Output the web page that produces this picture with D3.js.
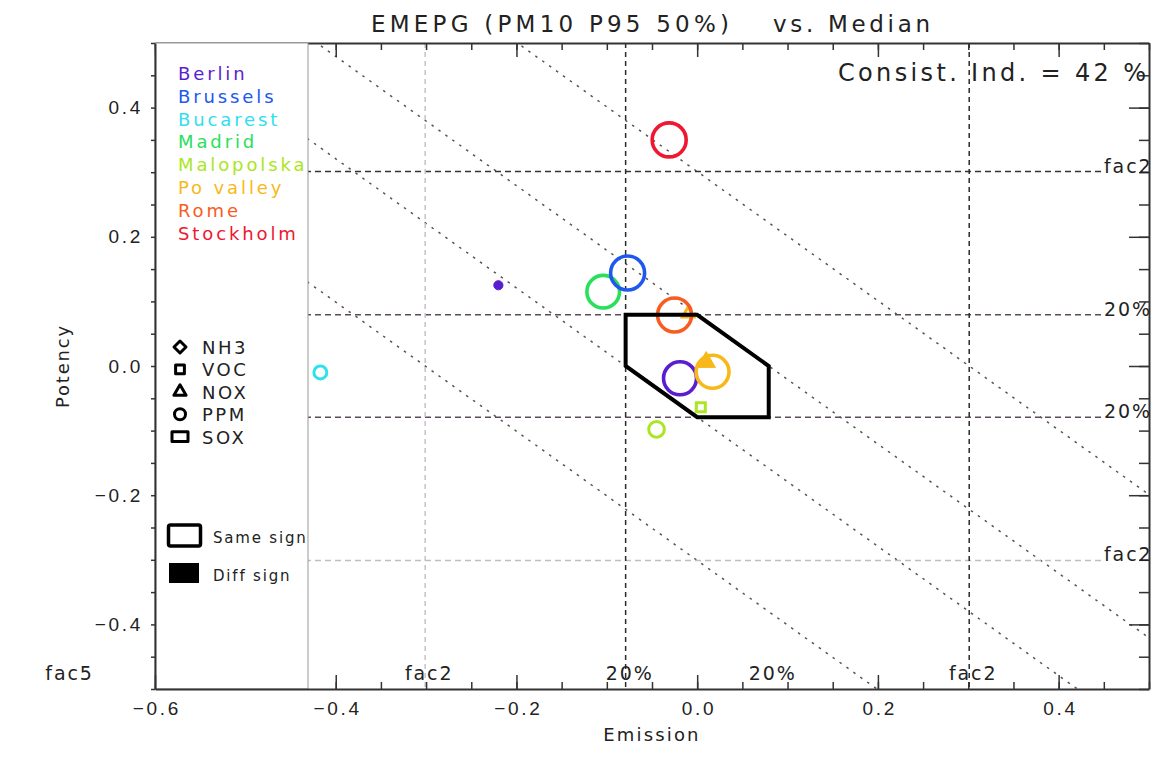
<!DOCTYPE html>
<html>
<head>
<meta charset="utf-8">
<script src="https://cdn.jsdelivr.net/npm/d3@7"></script>
<style>
  html, body { margin: 0; padding: 0; background: #fff; }
  svg { display: block; font-family: "DejaVu Sans", sans-serif; }
  .lbl { fill: #222; }
</style>
</head>
<body>
<svg id="chart" width="1165" height="759"></svg>
<script>
// ---- data -------------------------------------------------------------
const cities = ["Berlin", "Brussels", "Bucarest", "Madrid", "Malopolska", "Po valley", "Rome", "Stockholm"];
const cityColors = ["#5a1ed0", "#2058ee", "#30e0ec", "#28e05a", "#aae622", "#f8b81a", "#f85c22", "#ee1830"];

const pollutants = ["NH3", "VOC", "NOX", "PPM", "SOX"];
const pollutantShapes = ["diamond", "square", "triangle", "circle", "rect"];

// one entry per plotted symbol
const markerCity      = ["Berlin", "Berlin", "Brussels", "Bucarest", "Madrid", "Malopolska", "Malopolska", "Po valley", "Po valley", "Po valley", "Rome", "Stockholm"];
const markerPollutant = ["PPM", "PPM", "PPM", "PPM", "PPM", "PPM", "VOC", "PPM", "NOX", "NOX", "PPM", "PPM"];
const markerEmission  = [-0.220, -0.019, -0.077, -0.417, -0.104, -0.045, 0.004, 0.017, 0.010, -0.010, -0.025, -0.031];
const markerPotency   = [0.125, -0.019, 0.144, -0.010, 0.115, -0.098, -0.064, -0.009, 0.006, 0.081, 0.079, 0.350];
const markerMagnitude = [0.27, 0.97, 1.0, 0.38, 0.96, 0.46, 0.33, 0.97, 0.62, 0.39, 1.0, 1.0];
const markerSameSign  = [false, true, true, true, true, true, true, true, false, true, true, true];

// reference factors (log10 scale): 20%, factor 2, factor 5
const f20 = Math.log10(1.2);
const f2 = Math.log10(2);
const f5 = Math.log10(5);
const diagonalLevels = [-f2, -f20, f20, f2];

const xMajorTicks = [-0.6, -0.4, -0.2, 0.0, 0.2, 0.4];
const yMajorTicks = [-0.4, -0.2, 0.0, 0.2, 0.4];

const titleLeft = "EMEPG (PM10 P95 50%)";
const titleRight = "vs. Median";
const consistency = 42;

// ---- layout -------------------------------------------------------------
const svg = d3.select("#chart");
const x = d3.scaleLinear().domain([-0.6, 0.5]).range([155, 1149]);
const y = d3.scaleLinear().domain([-0.5, 0.5]).range([689, 43]);
const rScale = d3.scaleLinear().domain([0, 1]).range([0, 17]);
const colorOf = d3.scaleOrdinal().domain(cities).range(cityColors);

const [x0, x1] = x.range();
const [y1, y0] = y.range();

svg.append("defs").append("clipPath").attr("id", "plotClip")
  .append("rect").attr("x", x0).attr("y", y0).attr("width", x1 - x0).attr("height", y1 - y0);

const plot = svg.append("g").attr("clip-path", "url(#plotClip)");

// diagonal iso-lines (emission + potency = const)
plot.selectAll("line.diag").data(diagonalLevels).join("line")
  .attr("class", "diag")
  .attr("x1", x(-0.6)).attr("y1", c => y(c + 0.6))
  .attr("x2", x(0.5)).attr("y2", c => y(c - 0.5))
  .attr("stroke", "#555").attr("stroke-width", 1.5)
  .attr("stroke-dasharray", "2.5,6");

// horizontal reference lines
const hLines = [
  { v: f2, color: "#333" },
  { v: f20, color: "#5a4a5a" },
  { v: -f20, color: "#5a4a5a" },
  { v: -f2, color: "#c4bcc4" }
];
plot.selectAll("line.h").data(hLines).join("line")
  .attr("class", "h")
  .attr("x1", x0).attr("x2", 1103)
  .attr("y1", d => y(d.v)).attr("y2", d => y(d.v))
  .attr("stroke", d => d.color).attr("stroke-width", 1.5)
  .attr("stroke-dasharray", "6,4");

// vertical reference lines
const vLines = [
  { v: -f2, color: "#c8c0c8" },
  { v: -f20, color: "#2a2a2a" },
  { v: f2, color: "#2a2a2a" }
];
plot.selectAll("line.v").data(vLines).join("line")
  .attr("class", "v")
  .attr("y1", y0).attr("y2", y1)
  .attr("x1", d => x(d.v)).attr("x2", d => x(d.v))
  .attr("stroke", d => d.color).attr("stroke-width", 1.5)
  .attr("stroke-dasharray", "5,4");

// ---- axes ---------------------------------------------------------------
const minorX = d3.range(-12, 11).map(i => i * 0.05);
const minorY = d3.range(-10, 11).map(i => i * 0.05);
const fmt = d3.format(".1f");

function styleAxis(g) {
  g.selectAll(".domain").attr("stroke", "#333").attr("stroke-width", 2);
  g.selectAll(".tick line").attr("stroke", "#333").attr("stroke-width", 1.5);
  g.selectAll(".tick text").attr("fill", "#222").style("font-size", "19px").style("letter-spacing", "0.14em");
}

svg.append("g").attr("transform", `translate(0,${y1})`)
  .call(d3.axisBottom(x).tickValues(minorX).tickSize(-7).tickSizeOuter(0).tickFormat(""))
  .call(g => g.select(".domain").remove()).call(styleAxis);
svg.append("g").attr("transform", `translate(0,${y0})`)
  .call(d3.axisTop(x).tickValues(minorX).tickSize(-7).tickSizeOuter(0).tickFormat(""))
  .call(g => g.select(".domain").remove()).call(styleAxis);
svg.append("g").attr("transform", `translate(${x1},0)`)
  .call(d3.axisRight(y).tickValues(minorY).tickSize(-10).tickSizeOuter(0).tickFormat(""))
  .call(g => g.select(".domain").remove()).call(styleAxis);

svg.append("g").attr("transform", `translate(0,${y0})`)
  .call(d3.axisTop(x).tickValues(xMajorTicks).tickSize(-14).tickSizeOuter(0).tickFormat(""))
  .call(styleAxis);
svg.append("g").attr("transform", `translate(${x1},0)`)
  .call(d3.axisRight(y).tickValues(yMajorTicks).tickSize(-20).tickSizeOuter(0).tickFormat(""))
  .call(styleAxis);

// legend panel sits over the left part of the plot
svg.append("rect")
  .attr("x", x0).attr("y", y0).attr("width", 153).attr("height", y1 - y0)
  .attr("fill", "#fff").attr("stroke", "#999").attr("stroke-width", 1);

svg.append("g").attr("transform", `translate(0,${y1})`)
  .call(d3.axisBottom(x).tickValues(xMajorTicks).tickSize(-14).tickSizeOuter(0).tickPadding(13).tickFormat(fmt))
  .call(styleAxis)
  .call(g => g.selectAll(".tick text").attr("dx", "0.07em"));
svg.append("g").attr("transform", `translate(${x0},0)`)
  .call(d3.axisLeft(y).tickValues(minorY).tickSize(4).tickSizeOuter(0).tickPadding(8)
    .tickFormat(d => yMajorTicks.some(t => Math.abs(t - d) < 1e-9) ? fmt(d) : ""))
  .call(styleAxis);

// axis titles
svg.append("text").attr("class", "lbl")
  .attr("x", (x0 + x1) / 2).attr("y", 741).attr("text-anchor", "middle")
  .style("font-size", "18px").style("letter-spacing", "0.12em").text("Emission");
svg.append("text").attr("class", "lbl")
  .attr("transform", `translate(69,${(y0 + y1) / 2}) rotate(-90)`).attr("text-anchor", "middle")
  .style("font-size", "18px").style("letter-spacing", "0.1em").text("Potency");

// title
svg.append("text").attr("class", "lbl")
  .attr("x", 371).attr("y", 32).attr("textLength", 358).attr("lengthAdjust", "spacing")
  .style("font-size", "23px").text(titleLeft);
svg.append("text").attr("class", "lbl")
  .attr("x", 773).attr("y", 32).attr("textLength", 157).attr("lengthAdjust", "spacing")
  .style("font-size", "23px").text(titleRight);

svg.append("text").attr("class", "lbl")
  .attr("x", 838).attr("y", 81).attr("textLength", 308).attr("lengthAdjust", "spacing")
  .style("font-size", "24px").text(`Consist. Ind. = ${consistency} %`);

// reference line labels
const rightLabels = [
  { v: f2, t: "fac2" }, { v: f20, t: "20%" }, { v: -f20, t: "20%" }, { v: -f2, t: "fac2" }
];
svg.selectAll("text.rl").data(rightLabels).join("text")
  .attr("class", "rl lbl")
  .attr("x", 1104).attr("y", d => y(d.v) + 1)
  .style("font-size", "19px").style("letter-spacing", "0.1em")
  .text(d => d.t);

const bottomLabels = [
  { v: -f5, t: "fac5" }, { v: -f2, t: "fac2" }, { v: -f20, t: "20%" }, { v: f20, t: "20%" }, { v: f2, t: "fac2" }
];
svg.selectAll("text.bl").data(bottomLabels).join("text")
  .attr("class", "bl lbl")
  .attr("x", d => x(d.v) + 4).attr("y", 680).attr("text-anchor", "middle")
  .style("font-size", "19px").style("letter-spacing", "0.1em")
  .text(d => d.t);

// ---- symbols --------------------------------------------------------------
function shapePath(shape, r) {
  const p = d3.path();
  if (shape === "circle") {
    p.arc(0, 0, r, 0, 2 * Math.PI);
  } else if (shape === "square") {
    const h = r * 0.8;
    p.rect(-h, -h, 2 * h, 2 * h);
  } else if (shape === "triangle") {
    p.moveTo(0, -r); p.lineTo(0.87 * r, 0.5 * r); p.lineTo(-0.87 * r, 0.5 * r); p.closePath();
  } else if (shape === "diamond") {
    p.moveTo(0, -r); p.lineTo(r, 0); p.lineTo(0, r); p.lineTo(-r, 0); p.closePath();
  } else if (shape === "rect") {
    p.rect(-r, -0.6 * r, 2 * r, 1.2 * r);
  }
  return p.toString();
}
const shapeOf = d3.scaleOrdinal().domain(pollutants).range(pollutantShapes);

const markers = markerCity.map((c, i) => ({
  city: c, pol: markerPollutant[i], ex: markerEmission[i], po: markerPotency[i],
  mag: markerMagnitude[i], same: markerSameSign[i]
}));

// target zone: |emission|, |potency| and |sum| within 20%
const zone = [[-f20, f20], [0, f20], [f20, 0], [f20, -f20], [0, -f20], [-f20, 0]];
const zonePath = d3.line().x(d => x(d[0])).y(d => y(d[1])).curve(d3.curveLinearClosed)(zone);

// drawing order: small marks first, large rings on top
const markerOrder = [0, 3, 4, 2, 5, 6, 1, 8, 7, 9, 10, 11];
svg.append("g").selectAll("path").data(markerOrder.map(i => markers[i])).join("path")
  .attr("transform", d => `translate(${x(d.ex)},${y(d.po)})`)
  .attr("d", d => shapePath(shapeOf(d.pol), rScale(d.mag)))
  .attr("fill", d => d.same ? "none" : colorOf(d.city))
  .attr("stroke", d => colorOf(d.city))
  .attr("stroke-width", d => d.mag > 0.7 ? 3.6 : (d.same ? 3 : 1));

svg.append("path")
  .attr("d", zonePath)
  .attr("fill", "none").attr("stroke", "#000").attr("stroke-width", 4)
  .attr("stroke-linejoin", "miter");

// ---- legend ---------------------------------------------------------------
const lg = svg.append("g");
lg.selectAll("text.city").data(cities).join("text")
  .attr("class", "city")
  .attr("x", 178).attr("y", (d, i) => 80 + i * 22.8)
  .attr("fill", d => colorOf(d))
  .style("font-size", "18px").style("letter-spacing", "0.16em")
  .text(d => d);

const legendSymbolSize = { diamond: 6, square: 5.5, triangle: 7, circle: 5.5, rect: 8 };
pollutants.forEach((p, i) => {
  const cy = 347 + i * 22.4;
  lg.append("path")
    .attr("transform", `translate(180,${cy})`)
    .attr("d", shapePath(shapeOf(p), legendSymbolSize[shapeOf(p)]))
    .attr("fill", "none").attr("stroke", "#000").attr("stroke-width", 3)
    .attr("stroke-linejoin", "round");
  lg.append("text").attr("class", "lbl")
    .attr("x", 202).attr("y", cy + 7)
    .style("font-size", "18px").style("letter-spacing", "0.14em")
    .text(p);
});

lg.append("rect").attr("x", 168.5).attr("y", 525).attr("width", 32).attr("height", 21).attr("rx", 2)
  .attr("fill", "none").attr("stroke", "#000").attr("stroke-width", 3.5);
lg.append("text").attr("class", "lbl").attr("x", 213).attr("y", 543)
  .style("font-size", "15px").style("letter-spacing", "0.12em").text("Same sign");
lg.append("rect").attr("x", 169).attr("y", 563).attr("width", 30).attr("height", 20)
  .attr("fill", "#000");
lg.append("text").attr("class", "lbl").attr("x", 213).attr("y", 581)
  .style("font-size", "15px").style("letter-spacing", "0.12em").text("Diff sign");
</script>
</body>
</html>
